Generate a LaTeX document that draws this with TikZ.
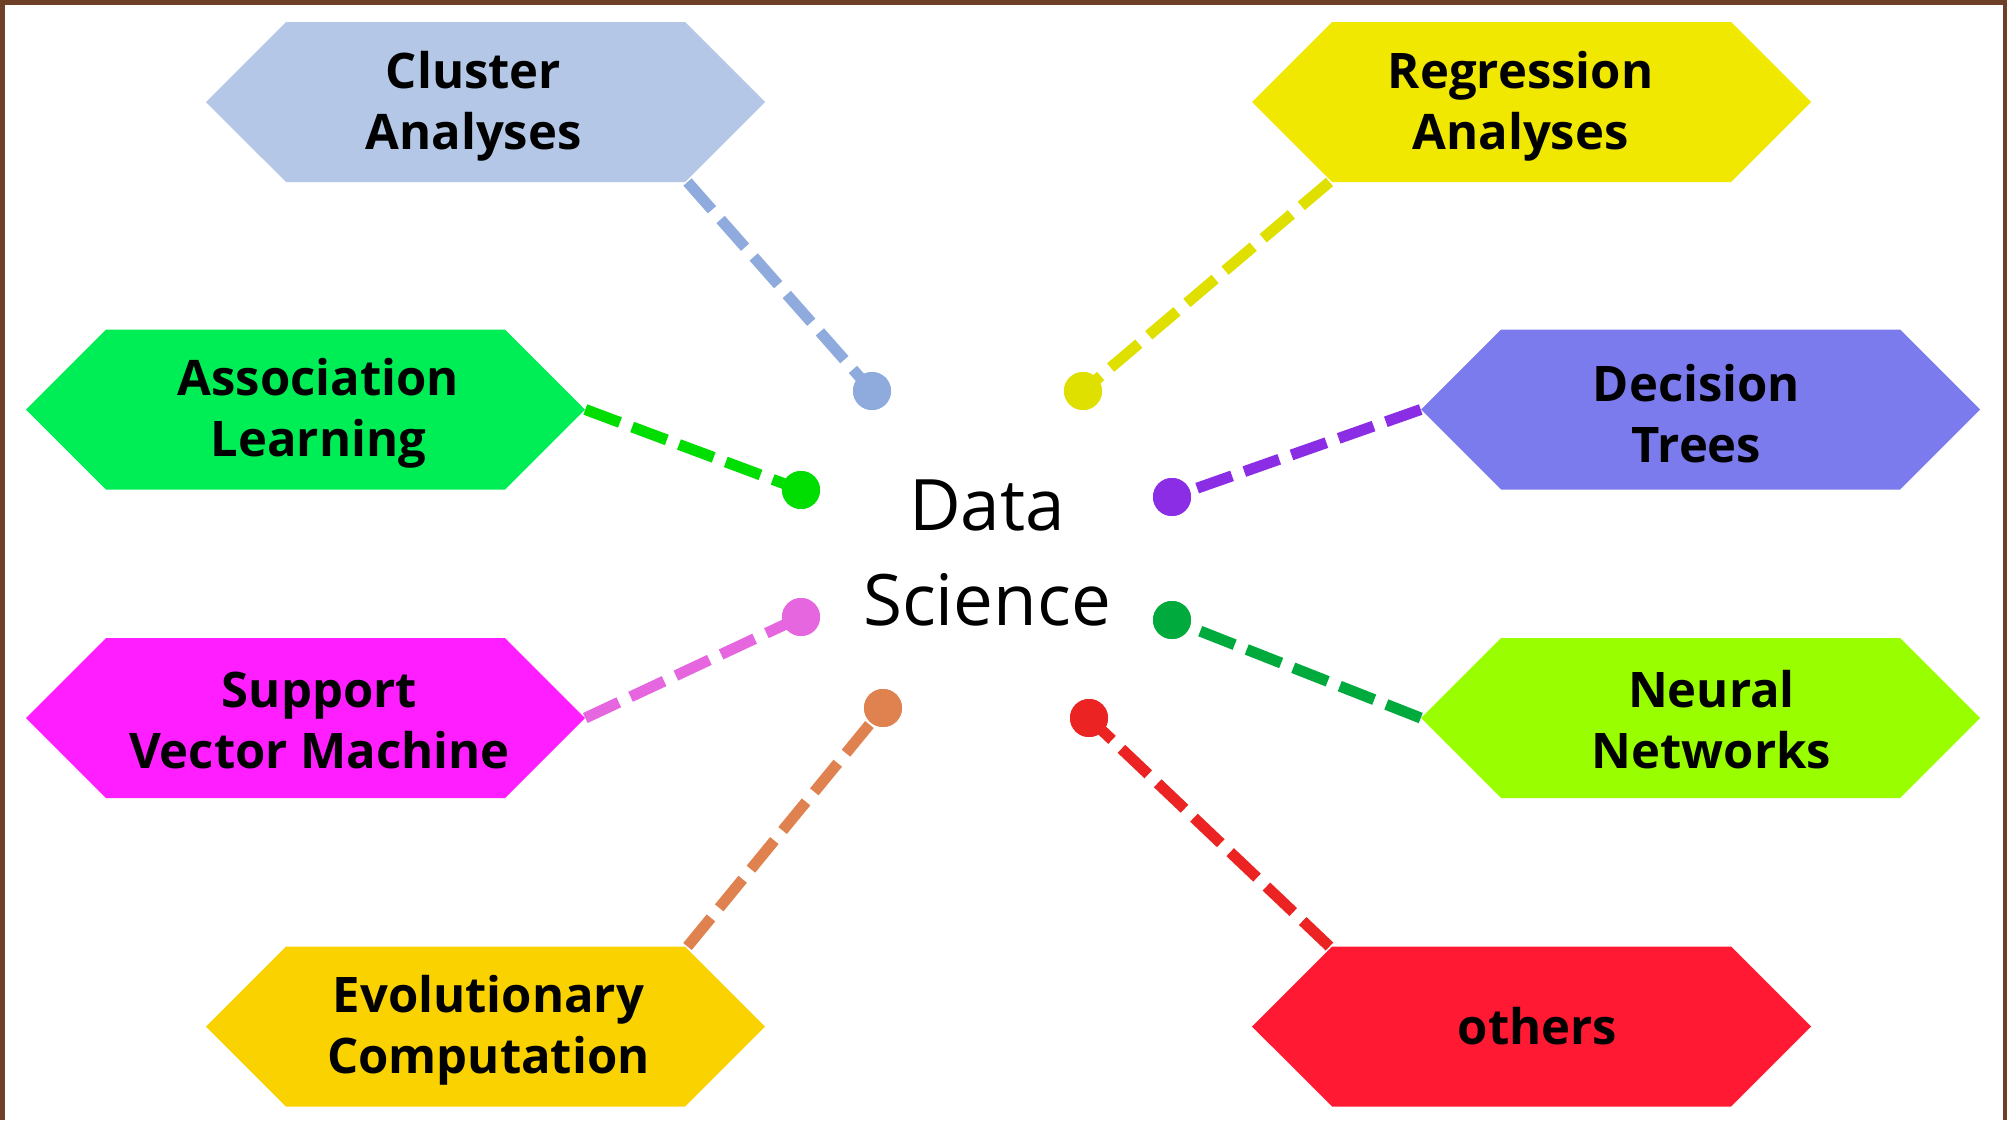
\documentclass[tikz,border=0pt]{standalone}
\usepackage{fontspec}
\setmainfont{Open Sans}
\usetikzlibrary{shapes.symbols,calc}
\definecolor{frameC}{HTML}{6E4028}
\definecolor{clF}{HTML}{B4C7E7}\definecolor{clL}{HTML}{8FAADC}
\definecolor{reF}{HTML}{F0E800}\definecolor{reL}{HTML}{E0E000}
\definecolor{asF}{HTML}{00EE55}\definecolor{asL}{HTML}{00DD00}
\definecolor{deF}{HTML}{7B7BEE}\definecolor{deL}{HTML}{8C2DE6}
\definecolor{suF}{HTML}{FF1EFF}\definecolor{suL}{HTML}{E666E0}
\definecolor{neF}{HTML}{99FF00}\definecolor{neL}{HTML}{00AA3C}
\definecolor{evF}{HTML}{FAD200}\definecolor{evL}{HTML}{E08250}
\definecolor{otF}{HTML}{FF1932}\definecolor{otL}{HTML}{EB2323}
\begin{document}
\begin{tikzpicture}[x=1pt,y=-1pt,
  hexa/.style={shape=signal, signal to=west and east, signal pointer angle=90,
    minimum width=559pt, minimum height=160pt, inner sep=0pt},
  htext/.style={align=center, inner sep=0pt,
    font=\fontsize{49}{61}\selectfont\bfseries, text=black},
  dotn/.style={circle, inner sep=0pt, minimum size=38pt},
  conn/.style={line width=11pt, dash pattern=on 37pt off 13pt}]
\useasboundingbox (0,0) rectangle (2007,1120);
\fill[white] (0,0) rectangle (2007,1120);
\fill[frameC] (0,0) rectangle (2007,5);
\fill[frameC] (0,0) rectangle (5,1120);
\fill[frameC] (2003,0) rectangle (2007,1120);
% hexagons
\node[hexa, fill=clF] (h1) at (485.5,102) {};
\node[hexa, fill=reF] (h2) at (1531.5,102) {};
\node[hexa, fill=asF] (h3) at (305.5,409.5) {};
\node[hexa, fill=deF] (h4) at (1700.5,409.5) {};
\node[hexa, fill=suF] (h5) at (305.5,718) {};
\node[hexa, fill=neF] (h6) at (1700.5,718) {};
\node[hexa, fill=evF] (h7) at (485.5,1026.5) {};
\node[hexa, fill=otF] (h8) at (1531.5,1026.5) {};
% labels
\node[htext] (t1) at ($(h1.center)+(-12,4)$) {Cluster\\Analyses};
\node[htext] (t2) at ($(h2.center)+(-11,4)$) {Regression\\Analyses};
\node[htext] (t3) at ($(h3.center)+(13,4)$) {Association\\Learning};
\node[htext] (t4) at ($(h4.center)+(-4,4)$) {Decision\\Trees};
\node[htext] (t5) at ($(h5.center)+(14,2)$) {Support\\Vector Machine};
\node[htext] (t6) at ($(h6.center)+(11,2)$) {Neural\\Networks};
\node[htext] (t7) at ($(h7.center)+(3,4)$) {Evolutionary\\Computation};
\node[htext] (t8) at ($(h8.center)+(6,0)$) {others};
% centre
\node[align=center, font=\fontsize{71}{95}\selectfont, text=black] (ds) at (987,553) {Data\\Science};
% dots
\node[dotn, fill=clL] (d1) at (872,391) {};
\node[dotn, fill=reL] (d2) at (1083,391) {};
\node[dotn, fill=asL] (d3) at (801,490) {};
\node[dotn, fill=deL] (d4) at (1172,497) {};
\node[dotn, fill=suL] (d5) at (801,617) {};
\node[dotn, fill=neL] (d6) at (1172,620) {};
\node[dotn, fill=evL] (d7) at (883,708) {};
\node[dotn, fill=otL] (d8) at (1089,718) {};
% connectors
\draw[conn, clL] ($(h1.center)+(202,80)$) -- (d1.center);
\draw[conn, reL] ($(h2.center)+(-202,80)$) -- (d2.center);
\draw[conn, asL] (h3.east) -- (d3.center);
\draw[conn, deL] (h4.west) -- (d4.center);
\draw[conn, suL] (h5.east) -- (d5.center);
\draw[conn, neL] (h6.west) -- (d6.center);
\draw[conn, evL] ($(h7.center)+(202,-80)$) -- (d7.center);
\draw[conn, otL] ($(h8.center)+(-202,-80)$) -- (d8.center);
% redraw dots on top
\foreach \d/\c in {d1/clL,d2/reL,d3/asL,d4/deL,d5/suL,d6/neL,d7/evL,d8/otL}
  \fill[\c] (\d.center) circle[radius=19pt];
\end{tikzpicture}
\end{document}
